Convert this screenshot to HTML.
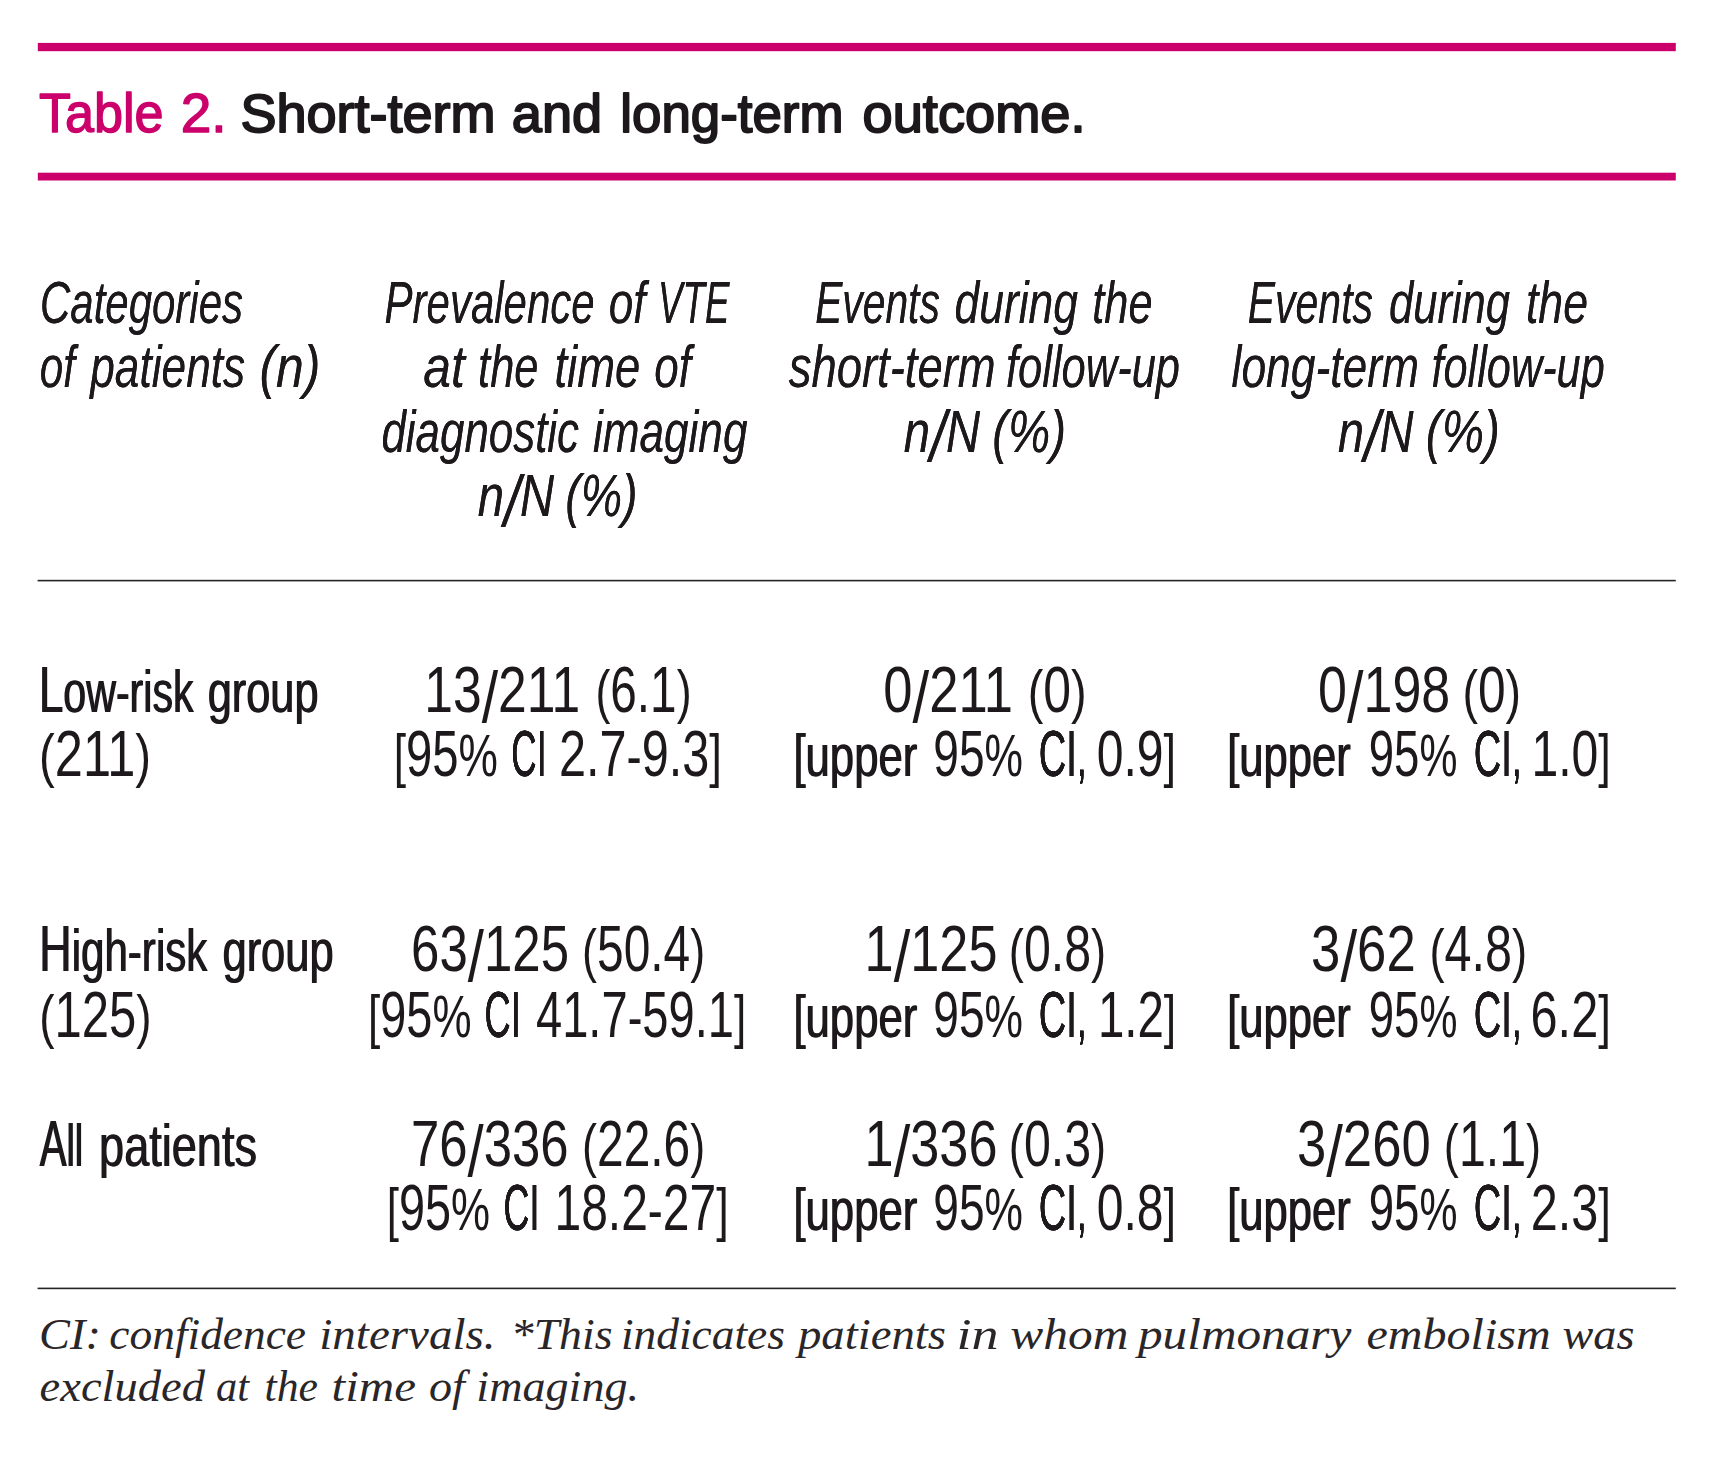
<!DOCTYPE html>
<html lang="en"><head><meta charset="utf-8"><title>Table 2. Short-term and long-term outcome.</title>
<style>
html,body{margin:0;padding:0;background:#fff;}
body{width:1710px;height:1472px;overflow:hidden;}
svg{display:block;}
text{font-family:"Liberation Sans",sans-serif;fill:#1c181b;white-space:pre;}
.tm{font-size:55px;fill:#cc006b;stroke:#cc006b;stroke-width:1.4px;stroke-linejoin:round;}
.tb{font-size:54px;stroke:#1c181b;stroke-width:1.9px;stroke-linejoin:round;}
.em .hi{filter:drop-shadow(0.35px 0 0 #1c181b);}
.em .lc{filter:drop-shadow(1.15px 0 0 #1c181b);}
.em .ci{filter:drop-shadow(0.7px 0 0 #1c181b) drop-shadow(0.6px 0 0 #1c181b);}
.hi{font-size:60px;font-style:italic;}
.b{font-size:60px;}
.d{font-size:64px;}
.sl{font-size:73px;}
.f{font-family:"Liberation Serif",serif;font-style:italic;font-size:44px;fill:#2a2628;}
</style></head><body>
<svg width="1710" height="1472" viewBox="0 0 1710 1472">
<rect x="37.8" y="42.9" width="1638" height="8.3" fill="#cc006b"/>
<rect x="37.8" y="172.7" width="1638" height="7.8" fill="#cc006b"/>
<rect x="37.6" y="579.8" width="1638.2" height="1.6" fill="#262325"/>
<rect x="37.6" y="1287.6" width="1638.2" height="1.6" fill="#262325"/>
<g class="em">
<text id="t1_0" class="tm" x="38.99" y="131.70" textLength="124.63" lengthAdjust="spacingAndGlyphs">Table</text> <text id="t1_1" class="tm" x="180.76" y="131.70" textLength="45.89" lengthAdjust="spacingAndGlyphs">2.</text>
<text id="t2_0" class="tb" x="240.38" y="131.70" textLength="255.06" lengthAdjust="spacingAndGlyphs">Short-term</text> <text id="t2_1" class="tb" x="511.87" y="131.70" textLength="90.25" lengthAdjust="spacingAndGlyphs">and</text> <text id="t2_2" class="tb" x="620.35" y="131.70" textLength="223.12" lengthAdjust="spacingAndGlyphs">long-term</text> <text id="t2_3" class="tb" x="862.59" y="131.70" textLength="222.89" lengthAdjust="spacingAndGlyphs">outcome.</text>
<text id="h11_0" class="hi" x="39.97" y="323.40" textLength="203.05" lengthAdjust="spacingAndGlyphs">Categories</text>
<text id="h12_0" class="hi" x="39.71" y="387.40" textLength="35.16" lengthAdjust="spacingAndGlyphs">of</text> <text id="h12_1" class="hi" x="90.20" y="387.40" textLength="155.01" lengthAdjust="spacingAndGlyphs">patients</text> <text id="h12_2" class="hi" x="259.46" y="387.40" textLength="60.96" lengthAdjust="spacingAndGlyphs">(n)</text>
<text id="h21_0" class="hi" x="384.57" y="323.40" textLength="210.06" lengthAdjust="spacingAndGlyphs">Prevalence</text> <text id="h21_1" class="hi" x="608.68" y="323.40" textLength="36.77" lengthAdjust="spacingAndGlyphs">of</text> <text id="h21_2" class="hi" x="658.06" y="323.40" textLength="71.51" lengthAdjust="spacingAndGlyphs">VTE</text>
<text id="h22_0" class="hi" x="423.21" y="387.40" textLength="41.60" lengthAdjust="spacingAndGlyphs">at</text> <text id="h22_1" class="hi" x="478.09" y="387.40" textLength="60.38" lengthAdjust="spacingAndGlyphs">the</text> <text id="h22_2" class="hi" x="554.44" y="387.40" textLength="85.94" lengthAdjust="spacingAndGlyphs">time</text> <text id="h22_3" class="hi" x="654.31" y="387.40" textLength="36.62" lengthAdjust="spacingAndGlyphs">of</text>
<text id="h23_0" class="hi" x="381.48" y="451.90" textLength="197.53" lengthAdjust="spacingAndGlyphs">diagnostic</text> <text id="h23_1" class="hi" x="592.99" y="451.90" textLength="154.42" lengthAdjust="spacingAndGlyphs">imaging</text>
<text id="h24_0" class="hi" x="477.68" y="516.30" textLength="76.32" lengthAdjust="spacingAndGlyphs">n<tspan class="sl" dy="10.5">/</tspan><tspan dy="-10.5">N</tspan></text> <text id="h24_1" class="hi" x="565.24" y="516.30" textLength="72.32" lengthAdjust="spacingAndGlyphs">(%)</text>
<text id="h31_0" class="hi" x="815.17" y="323.40" textLength="124.63" lengthAdjust="spacingAndGlyphs">Events</text> <text id="h31_1" class="hi" x="954.57" y="323.40" textLength="123.44" lengthAdjust="spacingAndGlyphs">during</text> <text id="h31_2" class="hi" x="1092.28" y="323.40" textLength="60.29" lengthAdjust="spacingAndGlyphs">the</text>
<text id="h32_0" class="hi" x="788.79" y="387.40" textLength="206.83" lengthAdjust="spacingAndGlyphs">short-term</text> <text id="h32_1" class="hi" x="1005.97" y="387.40" textLength="174.05" lengthAdjust="spacingAndGlyphs">follow-up</text>
<text id="h33_0" class="hi" x="903.68" y="451.90" textLength="76.32" lengthAdjust="spacingAndGlyphs">n<tspan class="sl" dy="10.5">/</tspan><tspan dy="-10.5">N</tspan></text> <text id="h33_1" class="hi" x="992.26" y="451.90" textLength="73.78" lengthAdjust="spacingAndGlyphs">(%)</text>
<text id="h41_0" class="hi" x="1247.77" y="323.40" textLength="125.26" lengthAdjust="spacingAndGlyphs">Events</text> <text id="h41_1" class="hi" x="1388.99" y="323.40" textLength="121.01" lengthAdjust="spacingAndGlyphs">during</text> <text id="h41_2" class="hi" x="1525.92" y="323.40" textLength="62.16" lengthAdjust="spacingAndGlyphs">the</text>
<text id="h42_0" class="hi" x="1231.59" y="387.40" textLength="187.43" lengthAdjust="spacingAndGlyphs">long-term</text> <text id="h42_1" class="hi" x="1431.48" y="387.40" textLength="173.25" lengthAdjust="spacingAndGlyphs">follow-up</text>
<text id="h43_0" class="hi" x="1337.99" y="451.90" textLength="75.61" lengthAdjust="spacingAndGlyphs">n<tspan class="sl" dy="10.5">/</tspan><tspan dy="-10.5">N</tspan></text> <text id="h43_1" class="hi" x="1425.87" y="451.90" textLength="73.88" lengthAdjust="spacingAndGlyphs">(%)</text>
<text id="r11_0" class="b lc" x="38.45" y="712.30" textLength="154.56" lengthAdjust="spacingAndGlyphs"><tspan class="d">L</tspan>ow-risk</text> <text id="r11_1" class="b lc" x="207.15" y="712.30" textLength="110.91" lengthAdjust="spacingAndGlyphs">group</text>
<text id="r12_0" class="b" x="39.04" y="776.30" textLength="112.09" lengthAdjust="spacingAndGlyphs">(<tspan class="d">211</tspan>)</text>
<text id="r13_0" class="b" x="424.23" y="712.30" textLength="156.09" lengthAdjust="spacingAndGlyphs"><tspan class="d">13</tspan><tspan class="sl" dy="9.5">/</tspan><tspan class="d" dy="-9.5">211</tspan></text> <text id="r13_1" class="b" x="595.49" y="712.30" textLength="96.02" lengthAdjust="spacingAndGlyphs">(<tspan class="d">6.1</tspan>)</text>
<text id="r14_0" class="b" x="393.65" y="776.30" textLength="104.21" lengthAdjust="spacingAndGlyphs">[<tspan class="d">95</tspan>%</text> <text id="r14_1" class="b ci" x="511.35" y="776.30" textLength="35.05" lengthAdjust="spacingAndGlyphs"><tspan class="d">CI</tspan></text> <text id="r14_2" class="b" x="558.90" y="776.30" textLength="163.03" lengthAdjust="spacingAndGlyphs"><tspan class="d">2.7</tspan>-<tspan class="d">9.3</tspan>]</text>
<text id="r15_0" class="b" x="883.33" y="712.30" textLength="129.65" lengthAdjust="spacingAndGlyphs"><tspan class="d">0</tspan><tspan class="sl" dy="9.5">/</tspan><tspan class="d" dy="-9.5">211</tspan></text> <text id="r15_1" class="b" x="1027.63" y="712.30" textLength="58.98" lengthAdjust="spacingAndGlyphs">(<tspan class="d">0</tspan>)</text>
<text id="r16_0" class="b lc" x="792.94" y="776.30" textLength="123.87" lengthAdjust="spacingAndGlyphs">[upper</text> <text id="r16_1" class="b" x="933.29" y="776.30" textLength="89.78" lengthAdjust="spacingAndGlyphs"><tspan class="d">95</tspan>%</text> <text id="r16_2" class="b ci" x="1038.73" y="776.30" textLength="47.88" lengthAdjust="spacingAndGlyphs"><tspan class="d">CI</tspan>,</text> <text id="r16_3" class="b" x="1096.71" y="776.30" textLength="79.44" lengthAdjust="spacingAndGlyphs"><tspan class="d">0.9</tspan>]</text>
<text id="r17_0" class="b" x="1318.12" y="712.30" textLength="132.14" lengthAdjust="spacingAndGlyphs"><tspan class="d">0</tspan><tspan class="sl" dy="9.5">/</tspan><tspan class="d" dy="-9.5">198</tspan></text> <text id="r17_1" class="b" x="1462.39" y="712.30" textLength="58.63" lengthAdjust="spacingAndGlyphs">(<tspan class="d">0</tspan>)</text>
<text id="r18_0" class="b lc" x="1226.72" y="776.30" textLength="123.67" lengthAdjust="spacingAndGlyphs">[upper</text> <text id="r18_1" class="b" x="1368.75" y="776.30" textLength="88.69" lengthAdjust="spacingAndGlyphs"><tspan class="d">95</tspan>%</text> <text id="r18_2" class="b ci" x="1473.78" y="776.30" textLength="47.88" lengthAdjust="spacingAndGlyphs"><tspan class="d">CI</tspan>,</text> <text id="r18_3" class="b" x="1531.45" y="776.30" textLength="79.42" lengthAdjust="spacingAndGlyphs"><tspan class="d">1.0</tspan>]</text>
<text id="r21_0" class="b lc" x="38.75" y="971.40" textLength="168.07" lengthAdjust="spacingAndGlyphs"><tspan class="d">H</tspan>igh-risk</text> <text id="r21_1" class="b lc" x="221.93" y="971.40" textLength="111.32" lengthAdjust="spacingAndGlyphs">group</text>
<text id="r22_0" class="b" x="39.25" y="1036.60" textLength="112.30" lengthAdjust="spacingAndGlyphs">(<tspan class="d">125</tspan>)</text>
<text id="r23_0" class="b" x="411.12" y="971.40" textLength="157.96" lengthAdjust="spacingAndGlyphs"><tspan class="d">63</tspan><tspan class="sl" dy="9.5">/</tspan><tspan class="d" dy="-9.5">125</tspan></text> <text id="r23_1" class="b" x="582.09" y="971.40" textLength="123.07" lengthAdjust="spacingAndGlyphs">(<tspan class="d">50.4</tspan>)</text>
<text id="r24_0" class="b" x="368.10" y="1036.60" textLength="103.38" lengthAdjust="spacingAndGlyphs">[<tspan class="d">95</tspan>%</text> <text id="r24_1" class="b ci" x="484.55" y="1036.60" textLength="36.28" lengthAdjust="spacingAndGlyphs"><tspan class="d">CI</tspan></text> <text id="r24_2" class="b" x="535.99" y="1036.60" textLength="210.26" lengthAdjust="spacingAndGlyphs"><tspan class="d">41.7</tspan>-<tspan class="d">59.1</tspan>]</text>
<text id="r25_0" class="b" x="864.61" y="971.40" textLength="132.88" lengthAdjust="spacingAndGlyphs"><tspan class="d">1</tspan><tspan class="sl" dy="9.5">/</tspan><tspan class="d" dy="-9.5">125</tspan></text> <text id="r25_1" class="b" x="1008.83" y="971.40" textLength="97.38" lengthAdjust="spacingAndGlyphs">(<tspan class="d">0.8</tspan>)</text>
<text id="r26_0" class="b lc" x="792.94" y="1036.60" textLength="123.87" lengthAdjust="spacingAndGlyphs">[upper</text> <text id="r26_1" class="b" x="933.29" y="1036.60" textLength="89.78" lengthAdjust="spacingAndGlyphs"><tspan class="d">95</tspan>%</text> <text id="r26_2" class="b ci" x="1038.73" y="1036.60" textLength="47.88" lengthAdjust="spacingAndGlyphs"><tspan class="d">CI</tspan>,</text> <text id="r26_3" class="b" x="1097.90" y="1036.60" textLength="78.33" lengthAdjust="spacingAndGlyphs"><tspan class="d">1.2</tspan>]</text>
<text id="r27_0" class="b" x="1311.08" y="971.40" textLength="104.63" lengthAdjust="spacingAndGlyphs"><tspan class="d">3</tspan><tspan class="sl" dy="9.5">/</tspan><tspan class="d" dy="-9.5">62</tspan></text> <text id="r27_1" class="b" x="1429.44" y="971.40" textLength="97.71" lengthAdjust="spacingAndGlyphs">(<tspan class="d">4.8</tspan>)</text>
<text id="r28_0" class="b lc" x="1226.72" y="1036.60" textLength="123.67" lengthAdjust="spacingAndGlyphs">[upper</text> <text id="r28_1" class="b" x="1368.75" y="1036.60" textLength="88.69" lengthAdjust="spacingAndGlyphs"><tspan class="d">95</tspan>%</text> <text id="r28_2" class="b ci" x="1473.78" y="1036.60" textLength="47.88" lengthAdjust="spacingAndGlyphs"><tspan class="d">CI</tspan>,</text> <text id="r28_3" class="b" x="1530.60" y="1036.60" textLength="80.22" lengthAdjust="spacingAndGlyphs"><tspan class="d">6.2</tspan>]</text>
<text id="r31_0" class="b lc" x="39.17" y="1166.00" textLength="43.55" lengthAdjust="spacingAndGlyphs"><tspan class="d">A</tspan>ll</text> <text id="r31_1" class="b lc" x="98.62" y="1166.00" textLength="157.91" lengthAdjust="spacingAndGlyphs">patients</text>
<text id="r33_0" class="b" x="410.92" y="1166.00" textLength="157.67" lengthAdjust="spacingAndGlyphs"><tspan class="d">76</tspan><tspan class="sl" dy="9.5">/</tspan><tspan class="d" dy="-9.5">336</tspan></text> <text id="r33_1" class="b" x="582.09" y="1166.00" textLength="123.07" lengthAdjust="spacingAndGlyphs">(<tspan class="d">22.6</tspan>)</text>
<text id="r34_0" class="b" x="386.86" y="1230.30" textLength="103.23" lengthAdjust="spacingAndGlyphs">[<tspan class="d">95</tspan>%</text> <text id="r34_1" class="b ci" x="503.51" y="1230.30" textLength="35.83" lengthAdjust="spacingAndGlyphs"><tspan class="d">CI</tspan></text> <text id="r34_2" class="b" x="554.44" y="1230.30" textLength="174.31" lengthAdjust="spacingAndGlyphs"><tspan class="d">18.2</tspan>-<tspan class="d">27</tspan>]</text>
<text id="r35_0" class="b" x="864.61" y="1166.00" textLength="132.88" lengthAdjust="spacingAndGlyphs"><tspan class="d">1</tspan><tspan class="sl" dy="9.5">/</tspan><tspan class="d" dy="-9.5">336</tspan></text> <text id="r35_1" class="b" x="1008.83" y="1166.00" textLength="97.38" lengthAdjust="spacingAndGlyphs">(<tspan class="d">0.3</tspan>)</text>
<text id="r36_0" class="b lc" x="792.94" y="1230.30" textLength="123.87" lengthAdjust="spacingAndGlyphs">[upper</text> <text id="r36_1" class="b" x="933.29" y="1230.30" textLength="89.78" lengthAdjust="spacingAndGlyphs"><tspan class="d">95</tspan>%</text> <text id="r36_2" class="b ci" x="1038.73" y="1230.30" textLength="47.88" lengthAdjust="spacingAndGlyphs"><tspan class="d">CI</tspan>,</text> <text id="r36_3" class="b" x="1096.71" y="1230.30" textLength="79.44" lengthAdjust="spacingAndGlyphs"><tspan class="d">0.8</tspan>]</text>
<text id="r37_0" class="b" x="1296.90" y="1166.00" textLength="133.79" lengthAdjust="spacingAndGlyphs"><tspan class="d">3</tspan><tspan class="sl" dy="9.5">/</tspan><tspan class="d" dy="-9.5">260</tspan></text> <text id="r37_1" class="b" x="1443.83" y="1166.00" textLength="97.38" lengthAdjust="spacingAndGlyphs">(<tspan class="d">1.1</tspan>)</text>
<text id="r38_0" class="b lc" x="1226.72" y="1230.30" textLength="123.67" lengthAdjust="spacingAndGlyphs">[upper</text> <text id="r38_1" class="b" x="1368.75" y="1230.30" textLength="88.69" lengthAdjust="spacingAndGlyphs"><tspan class="d">95</tspan>%</text> <text id="r38_2" class="b ci" x="1473.78" y="1230.30" textLength="47.88" lengthAdjust="spacingAndGlyphs"><tspan class="d">CI</tspan>,</text> <text id="r38_3" class="b" x="1530.65" y="1230.30" textLength="80.14" lengthAdjust="spacingAndGlyphs"><tspan class="d">2.3</tspan>]</text>
<text id="f1_0" class="f" x="39.12" y="1349.30" textLength="61.73" lengthAdjust="spacingAndGlyphs">CI:</text> <text id="f1_1" class="f" x="109.38" y="1349.30" textLength="196.63" lengthAdjust="spacingAndGlyphs">confidence</text> <text id="f1_2" class="f" x="319.32" y="1349.30" textLength="176.22" lengthAdjust="spacingAndGlyphs">intervals.</text> <text id="f1_3" class="f" x="510.75" y="1349.30" textLength="101.76" lengthAdjust="spacingAndGlyphs">*This</text> <text id="f1_4" class="f" x="620.93" y="1349.30" textLength="164.01" lengthAdjust="spacingAndGlyphs">indicates</text> <text id="f1_5" class="f" x="797.96" y="1349.30" textLength="148.02" lengthAdjust="spacingAndGlyphs">patients</text> <text id="f1_6" class="f" x="956.56" y="1349.30" textLength="42.09" lengthAdjust="spacingAndGlyphs">in</text> <text id="f1_7" class="f" x="1010.37" y="1349.30" textLength="118.08" lengthAdjust="spacingAndGlyphs">whom</text> <text id="f1_8" class="f" x="1137.96" y="1349.30" textLength="213.45" lengthAdjust="spacingAndGlyphs">pulmonary</text> <text id="f1_9" class="f" x="1366.56" y="1349.30" textLength="184.09" lengthAdjust="spacingAndGlyphs">embolism</text> <text id="f1_10" class="f" x="1562.57" y="1349.30" textLength="71.89" lengthAdjust="spacingAndGlyphs">was</text>
<text id="f2_0" class="f" x="39.58" y="1400.70" textLength="165.42" lengthAdjust="spacingAndGlyphs">excluded</text> <text id="f2_1" class="f" x="215.98" y="1400.70" textLength="33.01" lengthAdjust="spacingAndGlyphs">at</text> <text id="f2_2" class="f" x="264.52" y="1400.70" textLength="53.50" lengthAdjust="spacingAndGlyphs">the</text> <text id="f2_3" class="f" x="331.51" y="1400.70" textLength="84.53" lengthAdjust="spacingAndGlyphs">time</text> <text id="f2_4" class="f" x="428.98" y="1400.70" textLength="210.12" lengthAdjust="spacingAndGlyphs">of imaging.</text>
</g>
</svg>
</body></html>
